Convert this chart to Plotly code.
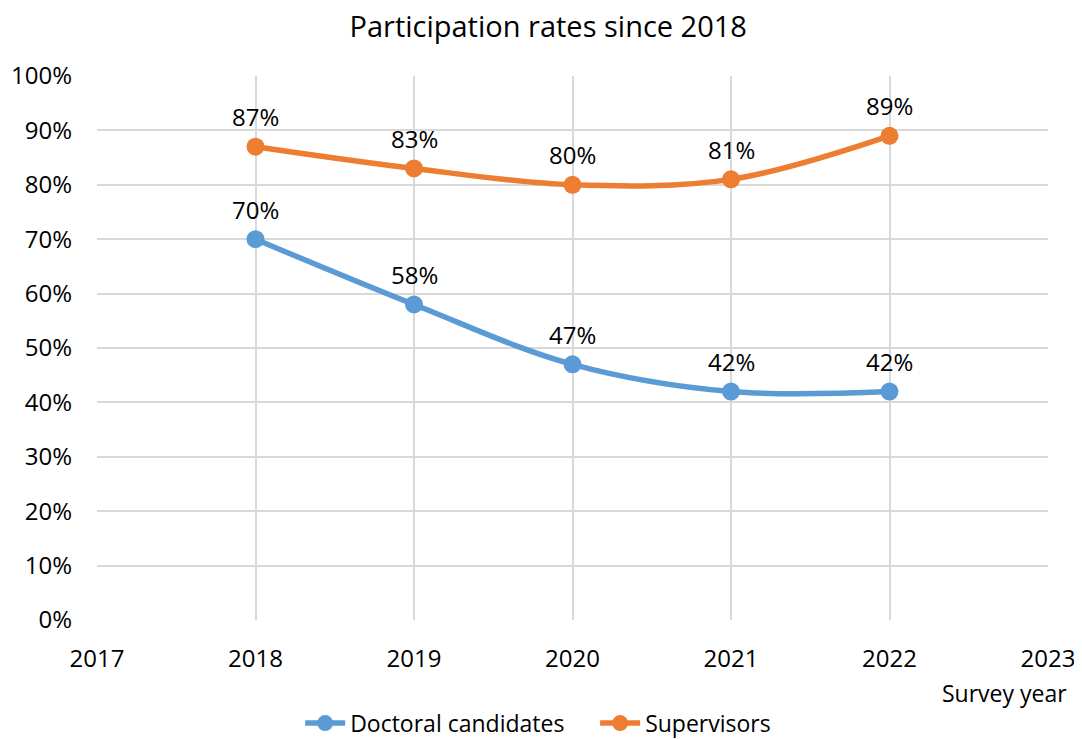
import plotly.graph_objects as go

years = [2018, 2019, 2020, 2021, 2022]
doctoral = [0.70, 0.58, 0.47, 0.42, 0.42]
supervisors = [0.87, 0.83, 0.80, 0.81, 0.89]
series_names = ['Doctoral candidates', 'Supervisors']
colors = ['#5b9bd5', '#ed7d31']

FONT = 'Open Sans'

fig = go.Figure()
for name, vals, col in zip(series_names, [doctoral, supervisors], colors):
    fig.add_trace(go.Scatter(
        x=years, y=vals, name=name,
        mode='lines+markers',
        line=dict(color=col, width=5.5, shape='spline', smoothing=1),
        marker=dict(color=col, size=18),
    ))
    for x, v in zip(years, vals):
        fig.add_annotation(
            x=x, y=v, text=f'{round(v * 100)}%',
            showarrow=False, yshift=30,
            font=dict(family=FONT, size=24, color='black'),
        )

fig.add_annotation(
    xref='paper', yref='paper', x=1.022, y=-0.134,
    xanchor='right', yanchor='middle',
    text='Survey year', showarrow=False,
    font=dict(family=FONT, size=23, color='black'),
)

# the page body has an 8px margin, so the figure is drawn 8px smaller
fig.update_layout(
    width=1074, height=732,
    template='simple_white',
    margin=dict(l=89, r=34, t=68, b=120),
    title=dict(text='Participation rates since 2018', x=0.503, xref='container', xanchor='center',
               y=0.974, yanchor='middle', font=dict(family=FONT, size=29, color='black')),
    font=dict(family=FONT, size=24, color='black'),
    legend=dict(orientation='h', x=0.272, xanchor='left', xref='container',
                y=0.023, yref='container', yanchor='middle', entrywidth=240,
                font=dict(family=FONT, size=23), itemwidth=40, traceorder='normal'),
    xaxis=dict(range=[2017, 2023], tickmode='linear', tick0=2017, dtick=1,
               showgrid=True, gridcolor='#d9d9d9', gridwidth=1.5, automargin=False,
               showline=False, ticks='', ticklabelstandoff=22, zeroline=False),
    yaxis=dict(range=[0, 1], tickmode='linear', tick0=0, dtick=0.1, tickformat='.0%',
               showgrid=True, gridcolor='#d9d9d9', gridwidth=1.5, automargin=False,
               showline=False, ticks='', ticklabelstandoff=24, zeroline=False),
)

fig.write_html('out.html')
